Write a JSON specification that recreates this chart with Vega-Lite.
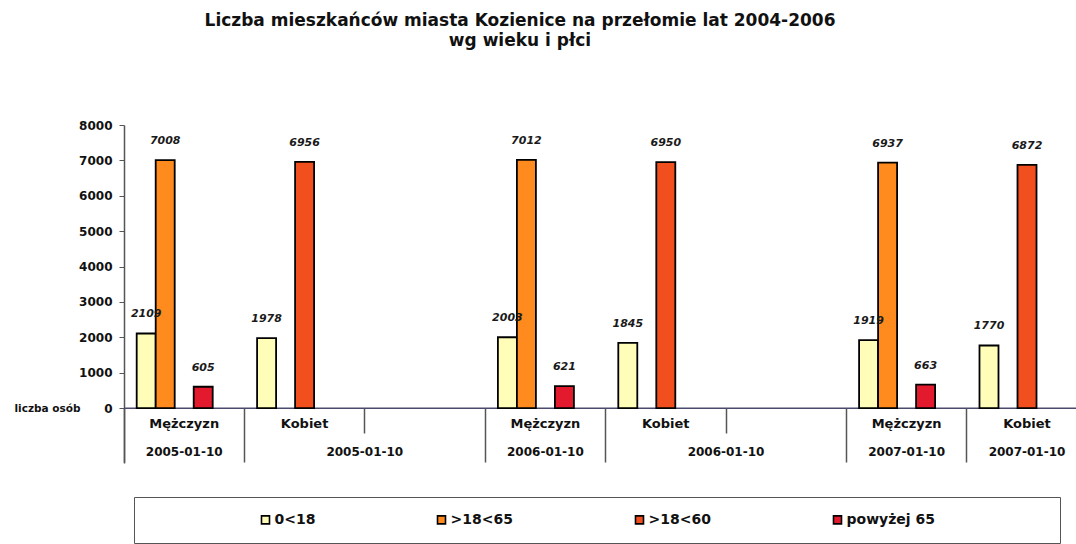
{
  "$schema": "https://vega.github.io/schema/vega-lite/v6.json",
  "width": 952,
  "height": 338,
  "autosize": "none",
  "padding": {"left": 124, "top": 125, "right": 0, "bottom": 81},
  "background": "white",
  "config": {"view": {"stroke": null}, "font": "DejaVu Sans"},
  "title": {
    "text": ["Liczba mieszkańców miasta Kozienice na przełomie lat 2004-2006", "wg wieku i płci"],
    "font": "DejaVu Sans",
    "fontSize": 17,
    "fontWeight": "bold",
    "color": "#111111",
    "anchor": "middle",
    "frame": "group",
    "dx": -80,
    "lineHeight": 20,
    "offset": 69
  },
  "datasets": {
    "bars": [
      {"cat": "c1", "series": "0<18", "value": 2109},
      {"cat": "c1", "series": ">18<65", "value": 7008},
      {"cat": "c1", "series": "powyżej 65", "value": 605},
      {"cat": "c2", "series": "0<18", "value": 1978},
      {"cat": "c2", "series": ">18<60", "value": 6956},
      {"cat": "c4", "series": "0<18", "value": 2003},
      {"cat": "c4", "series": ">18<65", "value": 7012},
      {"cat": "c4", "series": "powyżej 65", "value": 621},
      {"cat": "c5", "series": "0<18", "value": 1845},
      {"cat": "c5", "series": ">18<60", "value": 6950},
      {"cat": "c7", "series": "0<18", "value": 1919},
      {"cat": "c7", "series": ">18<65", "value": 6937},
      {"cat": "c7", "series": "powyżej 65", "value": 663},
      {"cat": "c8", "series": "0<18", "value": 1770},
      {"cat": "c8", "series": ">18<60", "value": 6872}
    ],
    "names": [
      {"cat": "c1", "name": "Mężczyzn"},
      {"cat": "c2", "name": "Kobiet"},
      {"cat": "c4", "name": "Mężczyzn"},
      {"cat": "c5", "name": "Kobiet"},
      {"cat": "c7", "name": "Mężczyzn"},
      {"cat": "c8", "name": "Kobiet"}
    ],
    "dates": [
      {"cat": "c1", "date": "2005-01-10", "span": "single"},
      {"cat": "c3", "date": "2005-01-10", "span": "merged"},
      {"cat": "c4", "date": "2006-01-10", "span": "single"},
      {"cat": "c6", "date": "2006-01-10", "span": "merged"},
      {"cat": "c7", "date": "2007-01-10", "span": "single"},
      {"cat": "c8", "date": "2007-01-10", "span": "single"}
    ]
  },
  "layer": [
    {
      "data": {"values": [{"level": 0}]},
      "mark": {"type": "rule", "color": "#4a4a6e", "strokeWidth": 1.5},
      "encoding": {
        "y": {"field": "level", "type": "quantitative", "scale": {"domain": [-1550, 8000], "nice": false, "zero": false}}
      }
    },
    {
      "data": {"name": "bars"},
      "mark": {"type": "bar", "stroke": "#000000", "strokeWidth": 1.8},
      "encoding": {
        "x": {
          "field": "cat", "type": "nominal",
          "scale": {"type": "band", "domain": ["c1", "c2", "c3", "c4", "c5", "c6", "c7", "c8"], "range": [0, 963.2], "paddingInner": 0, "paddingOuter": 0},
          "axis": {
            "orient": "top",
            "offset": -283,
            "bandPosition": 0,
            "domain": false,
            "labels": false,
            "grid": false,
            "title": null,
            "ticks": true,
            "tickColor": "#555555",
            "tickWidth": 1.5,
            "tickSize": {"condition": {"test": "datum.value == 'c3' || datum.value == 'c6'", "value": -25}, "value": -54}
          }
        },
        "xOffset": {
          "field": "series", "type": "nominal",
          "scale": {"domain": ["0<18", ">18<65", ">18<60", "powyżej 65", "_"], "paddingInner": 0, "paddingOuter": 0.668}
        },
        "y": {
          "field": "value", "type": "quantitative",
          "axis": {
            "values": [0, 1000, 2000, 3000, 4000, 5000, 6000, 7000, 8000],
            "format": "d",
            "grid": false,
            "domainColor": "#555555",
            "domainWidth": 1.5,
            "tickColor": "#555555",
            "tickSize": 5,
            "labelFont": "DejaVu Sans",
            "labelFontWeight": "bold",
            "labelFontSize": 12,
            "labelColor": "#111111",
            "labelPadding": 7,
            "title": "liczba osób",
            "titleFont": "DejaVu Sans",
            "titleFontWeight": "bold",
            "titleFontSize": 10.5,
            "titleColor": "#111111",
            "titleAngle": 0,
            "titleAlign": "right",
            "titleBaseline": "middle",
            "titleX": -44,
            "titleY": 283
          }
        },
        "color": {
          "field": "series", "type": "nominal",
          "scale": {"domain": ["0<18", ">18<65", ">18<60", "powyżej 65"], "range": ["#FFFDB8", "#FF8A1E", "#F24F1E", "#E31A2E"]},
          "legend": {
            "orient": "none",
            "legendX": 10,
            "legendY": 372,
            "direction": "horizontal",
            "columns": 4,
            "gridAlign": "each",
            "columnPadding": 118,
            "padding": 15.5,
            "strokeColor": "#555555",
            "fillColor": "#ffffff",
            "title": "\u2800",
            "titleOrient": "left",
            "titlePadding": 98,
            "titleFont": "DejaVu Sans",
            "titleFontSize": 14,
            "symbolType": "square",
            "symbolSize": 64,
            "symbolStrokeColor": "#000000",
            "symbolStrokeWidth": 1.6,
            "labelFont": "DejaVu Sans",
            "labelFontWeight": "bold",
            "labelFontSize": 14,
            "labelColor": "#111111",
            "labelOffset": 2,
            "labelLimit": 500,
            "labelExpr": "datum.label == 'powyżej 65' ? datum.label + '\u2800\u2800\u2800\u2800\u2800\u2800\u2800\u2800\u2800\u2800' : datum.label"
          }
        }
      }
    },
    {
      "data": {"name": "bars"},
      "mark": {"type": "text", "font": "DejaVu Sans", "fontSize": 11, "fontWeight": "bold", "fontStyle": "italic", "color": "#1a1a1a", "baseline": "middle", "dy": -19},
      "encoding": {
        "x": {"field": "cat", "type": "nominal"},
        "xOffset": {"field": "series", "type": "nominal"},
        "y": {"field": "value", "type": "quantitative"},
        "text": {"field": "value", "type": "quantitative", "format": "d"}
      }
    },
    {
      "data": {"name": "names"},
      "mark": {"type": "text", "font": "DejaVu Sans", "fontSize": 13, "fontWeight": "bold", "color": "#111111", "baseline": "middle"},
      "encoding": {
        "x": {"field": "cat", "type": "nominal"},
        "y": {"datum": -450, "type": "quantitative"},
        "text": {"field": "name"}
      }
    },
    {
      "data": {"name": "dates"},
      "transform": [{"filter": "datum.span == 'single'"}],
      "mark": {"type": "text", "font": "DejaVu Sans", "fontSize": 12, "fontWeight": "bold", "color": "#111111", "baseline": "middle"},
      "encoding": {
        "x": {"field": "cat", "type": "nominal"},
        "y": {"datum": -1240, "type": "quantitative"},
        "text": {"field": "date"}
      }
    },
    {
      "data": {"name": "dates"},
      "transform": [{"filter": "datum.span == 'merged'"}],
      "mark": {"type": "text", "font": "DejaVu Sans", "fontSize": 12, "fontWeight": "bold", "color": "#111111", "baseline": "middle"},
      "encoding": {
        "x": {"field": "cat", "type": "nominal", "bandPosition": 0},
        "y": {"datum": -1240, "type": "quantitative"},
        "text": {"field": "date"}
      }
    }
  ]
}
